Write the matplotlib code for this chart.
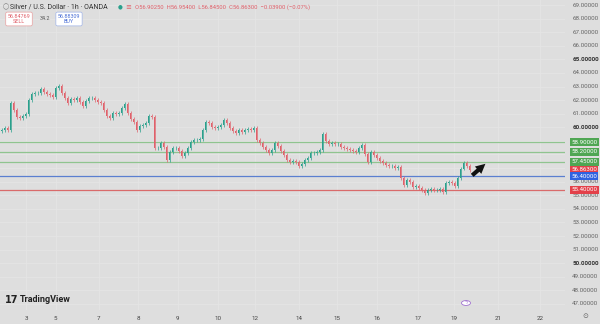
import matplotlib
matplotlib.use('Agg')
import matplotlib.pyplot as plt
import numpy as np

# hourly-ish closes, Silver/USD (1 value per ~3px)
closes = [
    59.80, 59.95, 59.80, 61.79, 61.27, 60.76, 60.69, 60.83, 60.98, 62.01,
    62.45, 62.52, 62.52, 62.82, 62.60, 62.45, 62.38, 62.23, 62.89, 63.04,
    62.52, 62.16, 61.79, 62.08, 62.01, 62.16, 61.86, 61.57, 61.94, 62.16,
    62.16, 62.01, 61.86, 61.79, 61.27, 60.83, 60.69, 61.05, 60.98, 61.05,
    61.42, 61.72, 61.05, 60.61, 60.39, 59.80, 60.10, 60.17, 60.32, 60.83,
    60.76, 58.48, 58.48, 58.85, 58.55, 57.59, 58.18, 58.48, 58.48, 58.26,
    57.89, 58.11, 58.48, 58.92, 59.07, 59.07, 59.14, 59.80, 60.39, 60.32,
    60.02, 59.95, 60.02, 60.17, 60.54, 60.32, 59.95, 59.73, 59.58, 59.80,
    59.66, 59.80, 59.88, 59.80, 59.95, 59.07, 58.85, 58.55, 58.33, 58.11,
    58.33, 58.85, 58.62, 58.26, 57.96, 57.59, 57.45, 57.52, 57.45, 57.15,
    57.30, 57.59, 57.74, 58.11, 58.11, 58.18, 58.33, 59.51, 58.99, 58.77,
    58.85, 58.77, 58.77, 58.55, 58.48, 58.40, 58.33, 58.26, 58.18, 58.48,
    58.70, 58.04, 57.45, 58.18, 57.96, 57.74, 57.52, 57.37, 57.23, 57.15,
    57.15, 57.01, 57.08, 56.27, 55.75, 56.12, 55.98, 55.61, 55.68, 55.53,
    55.39, 55.17, 55.39, 55.46, 55.39, 55.39, 55.46, 55.24, 55.90, 55.98,
    55.90, 55.68, 56.27, 56.95, 57.40, 57.15, 56.86,
]
first_open = 59.70
wick = 0.12

day_pos = [8.2, 18.0, 32.4, 45.5, 58.8, 72.2, 84.5, 99.2, 111.8, 125.2, 138.8, 150.8, 165.5, 179.5]
day_labels = ['3', '5', '7', '8', '9', '10', '12', '14', '15', '16', '17', '19', '21', '22']

levels = [58.90, 58.20, 57.45, 56.40, 55.40]
level_colors = ['#8fc48f', '#8fc48f', '#8fc48f', '#5b7fd0', '#d96b6b']
tag_colors = ['#4fa653', '#4fa653', '#4fa653', '#2f62e0', '#e3414a']
last_price = 56.863

bg = '#dedede'
up_c = '#2aa08c'
dn_c = '#e0606a'

fig = plt.figure(figsize=(6, 3.24), dpi=100, facecolor=bg)
ax = fig.add_axes([0, 14 / 324, 565 / 600, 310 / 324])
ax.set_facecolor(bg)

opens = [first_open] + closes[:-1]
for i, (o, c) in enumerate(zip(opens, closes)):
    col = up_c if c >= o else dn_c
    ax.vlines(i, min(o, c) - wick, max(o, c) + wick, color=col, lw=0.5, zorder=3)
    ax.bar(i, max(abs(c - o), 0.03), bottom=min(o, c), width=0.55,
           color=col, edgecolor='none', zorder=4)

for lv, lc in zip(levels, level_colors):
    ax.axhline(lv, color=lc, lw=0.9, zorder=2)

ax.set_xlim(-0.5, 565 / 3 - 0.5)
ax.set_ylim(46.556, 69.37)

# grid
for p in day_pos:
    ax.axvline(p, color='#e5e5e5', lw=0.6, zorder=1)
for v in range(47, 70):
    ax.axhline(v, color='#e5e5e5', lw=0.6, zorder=1)

ax.set_xticks(day_pos)
ax.set_xticklabels(day_labels, fontsize=4.5, color='#444', family='Roboto')
ax.tick_params(axis='x', length=0, pad=4)
ax.set_yticks([])
for s in ax.spines.values():
    s.set_visible(False)

# right price scale
ytr = ax.get_yaxis_transform()
for v in range(47, 70):
    if v in (57, 58, 59):
        continue
    bold = v in (50, 60, 65)
    ax.text(1.013, v, f'{v:.5f}', transform=ytr, fontsize=4.5,
            color='#333' if bold else '#666', va='center', ha='left',
            family='Roboto', fontweight='bold' if bold else 'normal', clip_on=False)

tags = [(58.90, tag_colors[0]), (58.20, tag_colors[1]), (57.45, tag_colors[2]),
        (last_price, '#e3414a'), (56.40, tag_colors[3]), (55.40, tag_colors[4])]
for v, tc in tags:
    ax.text(1.011, v, f'{v:.5f}', transform=ytr, fontsize=4.4, color='white',
            va='center', ha='left', family='Roboto', clip_on=False, zorder=10,
            bbox=dict(boxstyle='square,pad=0.22', fc=tc, ec='none'))

# arrow
ax.annotate('', xy=(162.0, 57.45), xytext=(156.2, 56.33),
            arrowprops=dict(arrowstyle='simple,head_width=0.7,head_length=0.7,tail_width=0.3',
                            color='#111', lw=0), zorder=6)

# header text
fig.text(10 / 600, 1 - 7 / 324, 'Silver / U.S. Dollar · 1h · OANDA', fontsize=5,
         color='#333', va='center', family='Roboto')
fig.text(3 / 600, 1 - 7 / 324, '◯', fontsize=4, color='#777', va='center')
fig.text(118 / 600, 1 - 7 / 324, '●', fontsize=4, color='#2aa08c', va='center')
fig.text(125 / 600, 1 - 7 / 324, '≡', fontsize=5, color='#e0606a', va='center')
fig.text(135 / 600, 1 - 7 / 324,
         'O56.90250  H56.95400  L56.84500  C56.86300  −0.03900 (−0.07%)',
         fontsize=4.2, color='#e0606a', va='center', family='Roboto')
fig.text(19 / 600, 1 - 19 / 324, '56.84769\nSELL', fontsize=3.9, color='#e0606a',
         ha='center', va='center', family='Roboto', linespacing=1.0,
         bbox=dict(boxstyle='round,pad=0.35,rounding_size=0.3', fc='white', ec='#e8a0a0', lw=0.5))
fig.text(45 / 600, 1 - 19 / 324, '34.2', fontsize=3.9, color='#555', ha='center',
         va='center', family='Roboto')
fig.text(69 / 600, 1 - 19 / 324, '56.88309\nBUY', fontsize=3.9, color='#4a6fd6',
         ha='center', va='center', family='Roboto', linespacing=1.0,
         bbox=dict(boxstyle='round,pad=0.35,rounding_size=0.3', fc='white', ec='#a0b4e8', lw=0.5))

# logo
fig.text(5 / 600, 1 - 300 / 324, '17', fontsize=7, color='#222', fontweight='heavy',
         va='center', family='DejaVu Sans')
fig.text(20 / 600, 1 - 300 / 324, 'TradingView', fontsize=6.5, color='#222',
         fontweight='bold', va='center', family='Roboto')

# small icons
fig.patches.append(plt.Circle((466 / 600, 1 - 303 / 324), 0.0075, transform=fig.transFigure,
                              fc='white', ec='#a070d0', lw=0.6, figure=fig))
fig.text(466 / 600, 1 - 303 / 324, 'ϟ', fontsize=3.5, color='#a070d0', ha='center', va='center')
fig.text(585 / 600, 1 - 316 / 324, '⊙', fontsize=5, color='#666', ha='center', va='center')

fig.savefig('out.png', dpi=100, facecolor=bg)
